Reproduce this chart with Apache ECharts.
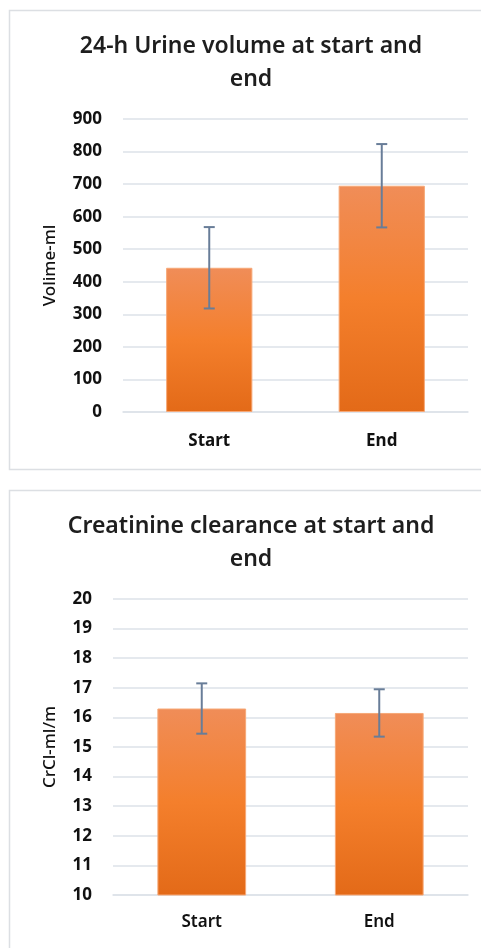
<!DOCTYPE html>
<html>
<head>
<meta charset="utf-8">
<script src="https://cdn.jsdelivr.net/npm/echarts@6/dist/echarts.min.js"></script>
<style>
	html, body { margin: 0; padding: 0; background: #fff; }
	#chart { width: 481px; height: 948px; }
</style>
</head>
<body>
<div id="chart"></div>
<script>
	var categories = ['Start', 'End'];
	var urineMean = [443, 695];
	var urineErr = [125, 128];
	var urineTicks = [0, 900, 100];
	var crclMean = [16.3, 16.15];
	var crclErr = [0.85, 0.8];
	var crclTicks = [10, 20, 1];

	var fontName = 'Noto Sans';
	var barColor = new echarts.graphic.LinearGradient(0, 0, 0, 1, [
		{ offset: 0, color: '#f08d58' },
		{ offset: 0.5, color: '#f47f2c' },
		{ offset: 1, color: '#e36a18' }
	]);

	function errData(mean, err) {
		return mean.map(function (m, i) { return [i, m - err[i], m + err[i]]; });
	}

	function renderErr(params, api) {
		var lo = api.coord([api.value(0), api.value(1)]);
		var hi = api.coord([api.value(0), api.value(2)]);
		var half = 5.5;
		var style = { stroke: '#687d98', lineWidth: 2 };
		return {
			type: 'group',
			children: [
				{ type: 'line', shape: { x1: hi[0], y1: hi[1], x2: lo[0], y2: lo[1] }, style: style },
				{ type: 'line', shape: { x1: hi[0] - half, y1: hi[1], x2: hi[0] + half, y2: hi[1] }, style: style },
				{ type: 'line', shape: { x1: lo[0] - half, y1: lo[1], x2: lo[0] + half, y2: lo[1] }, style: style }
			]
		};
	}

	var chart = echarts.init(document.getElementById('chart'));
	var gridLine = { lineStyle: { color: '#dde2e9', width: 1.5 } };

	var option = {
		animation: false,
		backgroundColor: '#fff',
		graphic: [
			{ type: 'rect', shape: { x: 9.5, y: 10.5, width: 480, height: 459 }, style: { fill: 'none', stroke: '#dcdfe3', lineWidth: 1.5 } },
			{ type: 'rect', shape: { x: 9.5, y: 490.5, width: 480, height: 470 }, style: { fill: 'none', stroke: '#dcdfe3', lineWidth: 1.5 } }
		],
		title: [{
			text: '24-h Urine volume at start and\nend',
			left: 246, top: 25, textAlign: 'center',
			textStyle: { fontFamily: fontName, fontSize: 23, fontWeight: 600, color: '#1e1e1e', lineHeight: 33 }
		}, {
			text: 'Creatinine clearance at start and\nend',
			left: 246, top: 505, textAlign: 'center',
			textStyle: { fontFamily: fontName, fontSize: 23, fontWeight: 600, color: '#1e1e1e', lineHeight: 33 }
		}],
		grid: [
			{ left: 123, right: 13, top: 119, height: 293 },
			{ left: 113, right: 13, top: 599, height: 296 }
		],
		xAxis: [{
			gridIndex: 0, type: 'category', data: categories,
			axisLine: gridLine, axisTick: { show: false },
			axisLabel: { margin: 21, fontFamily: fontName, fontSize: 17, fontWeight: 'bold', color: '#111' }
		}, {
			gridIndex: 1, type: 'category', data: categories,
			axisLine: gridLine, axisTick: { show: false },
			axisLabel: { margin: 19, fontFamily: fontName, fontSize: 17, fontWeight: 600, color: '#111' }
		}],
		yAxis: [{
			gridIndex: 0, type: 'value',
			min: urineTicks[0], max: urineTicks[1], interval: urineTicks[2],
			name: 'Volime-ml', nameLocation: 'middle', nameGap: 64,
			nameTextStyle: { fontFamily: fontName, fontSize: 17, fontWeight: 500, color: '#111' },
			axisLine: { show: false }, axisTick: { show: false },
			splitLine: gridLine,
			axisLabel: { margin: 21, fontFamily: fontName, fontSize: 17, fontWeight: 'bold', color: '#111' }
		}, {
			gridIndex: 1, type: 'value',
			min: crclTicks[0], max: crclTicks[1], interval: crclTicks[2],
			name: 'CrCl-ml/m', nameLocation: 'middle', nameGap: 54,
			nameTextStyle: { fontFamily: fontName, fontSize: 17, fontWeight: 500, color: '#111' },
			axisLine: { show: false }, axisTick: { show: false },
			splitLine: gridLine,
			axisLabel: { margin: 21, fontFamily: fontName, fontSize: 17, fontWeight: 'bold', color: '#111' }
		}],
		series: [{
			type: 'bar', xAxisIndex: 0, yAxisIndex: 0, barWidth: '50%',
			itemStyle: { color: barColor, borderColor: '#f6a877', borderWidth: 1 },
			data: urineMean
		}, {
			type: 'custom', xAxisIndex: 0, yAxisIndex: 0,
			renderItem: renderErr, z: 5,
			data: errData(urineMean, urineErr)
		}, {
			type: 'bar', xAxisIndex: 1, yAxisIndex: 1, barWidth: '50%',
			itemStyle: { color: barColor, borderColor: '#f6a877', borderWidth: 1 },
			data: crclMean
		}, {
			type: 'custom', xAxisIndex: 1, yAxisIndex: 1,
			renderItem: renderErr, z: 5,
			data: errData(crclMean, crclErr)
		}]
	};
	chart.setOption(option);
</script>
</body>
</html>
